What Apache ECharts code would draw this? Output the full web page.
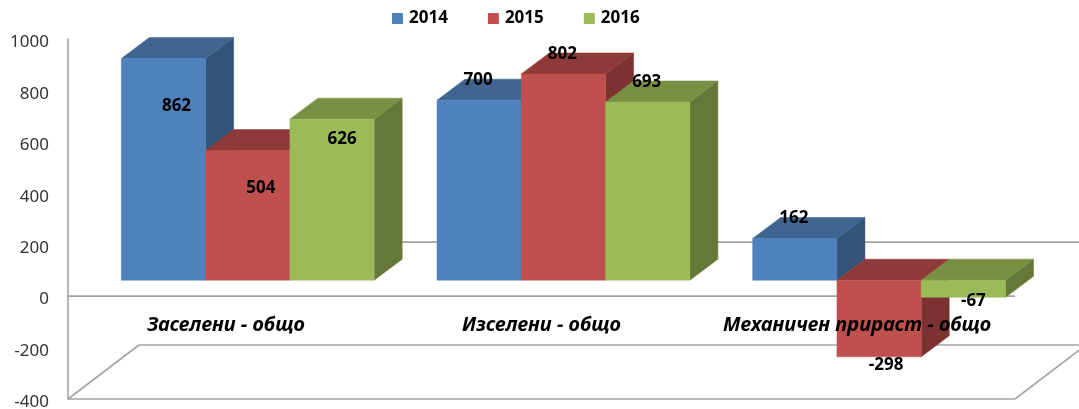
<!DOCTYPE html>
<html>
<head>
<meta charset="utf-8">
<style>html,body{margin:0;padding:0;background:#fff}#c{width:1079px;height:409px}</style>
<script src="https://cdn.jsdelivr.net/npm/echarts@6/dist/echarts.min.js"></script>
</head>
<body>
<div id="c"></div>
<script>
var categories = ['Заселени - общо', 'Изселени - общо', 'Механичен прираст - общо'];
var years = ['2014', '2015', '2016'];
var values2014 = [862, 700, 162];
var values2015 = [504, 802, -298];
var values2016 = [626, 693, -67];
var allValues = [values2014, values2015, values2016];

// appearance
var frontColors = ['#4F81BD', '#C0504D', '#9BBB59'];
var topColors = ['#3F648F', '#8E3A38', '#788F44'];
var sideColors = ['#335479', '#7C3230', '#667837'];
var lineColor = '#a3a3a3';
var FONT = '"Noto Sans", sans-serif';
var barRatio = 0.267, groupShift = 0.0695, lift = 16, depthX = 28, depthY = 21;
var planeX = 71, planeY = 54;
// hand-placed label nudges, as in the source chart (per series, per category)
var labelNudges = [
  [[13, 48], [-1, -20], [-1, -20]],
  [[13, 38], [-1, -20], [7, 8]],
  [[10, 20], [-1, -20], [10, 4]]
];

function frameItem(params, api) {
  var cs = params.coordSys;
  var l = cs.x, r = cs.x + cs.width;
  var y0 = api.coord([0, 0])[1], yMin = api.coord([0, -400])[1];
  function ln(x1, y1, x2, y2) {
    return {type: 'line', shape: {x1: x1, y1: y1, x2: x2, y2: y2},
      style: {stroke: lineColor, lineWidth: 1.6, fill: null}, silent: true};
  }
  return {type: 'group', children: [
    ln(l, y0, r, y0),
    ln(l + planeX, y0 - planeY, r + planeX, y0 - planeY),
    ln(l, yMin, r, yMin),
    ln(l + planeX, yMin - planeY, r + planeX, yMin - planeY),
    ln(l, yMin, l + planeX, yMin - planeY),
    ln(r, yMin, r + planeX, yMin - planeY)
  ]};
}

function barItem(s) {
  return function (params, api) {
    var cat = api.value(0), v = api.value(1);
    var band = api.size([1, 0])[0];
    var w = band * barRatio;
    var c = api.coord([cat, v]);
    var b = api.coord([cat, 0]);
    var x = b[0] + band * groupShift + (s - 1.5) * w;
    var yTop = Math.min(c[1], b[1]) - lift;
    var yBot = Math.max(c[1], b[1]) - lift;
    var nudge = labelNudges[s][params.dataIndex];
    var yEnd = c[1] - lift;
    function poly(pts, color) {
      return {type: 'polygon', shape: {points: pts}, style: {fill: color, stroke: color, lineWidth: 0.5}};
    }
    return {type: 'group', children: [
      poly([[x + w, yTop], [x + w + depthX, yTop - depthY], [x + w + depthX, yBot - depthY], [x + w, yBot]], sideColors[s]),
      poly([[x, yTop], [x + depthX, yTop - depthY], [x + w + depthX, yTop - depthY], [x + w, yTop]], topColors[s]),
      poly([[x, yTop], [x + w, yTop], [x + w, yBot], [x, yBot]], frontColors[s]),
      {type: 'text', z2: 100, x: x + w / 2 + nudge[0], y: yEnd + nudge[1], style: {
        text: String(v), fill: '#000', font: 'bold 17px ' + FONT, align: 'center', verticalAlign: 'middle'}}
    ]};
  };
}

var series = [{
  type: 'custom', name: 'frame', silent: true, z: 1, clip: false,
  data: [[0, 0]], encode: {x: 0, y: 1}, renderItem: frameItem
}];
years.forEach(function (yr, s) {
  series.push({
    type: 'custom', name: yr, z: 2, clip: false,
    itemStyle: {color: frontColors[s]},
    encode: {x: 0, y: 1},
    data: allValues[s].map(function (v, i) { return [i, v]; }),
    renderItem: barItem(s)
  });
});

var chart = echarts.init(document.getElementById('c'), null, {renderer: 'canvas'});
chart.setOption({
  animation: false,
  backgroundColor: '#fff',
  grid: {left: 68, top: 39, width: 947, height: 360, containLabel: false, outerBoundsMode: 'none'},
  legend: {
    data: years, left: 387, top: 5, icon: 'rect', itemWidth: 11, itemHeight: 11, itemGap: 40,
    textStyle: {color: '#000', fontFamily: 'Noto Sans', fontWeight: 'bold', fontSize: 17, padding: [0, 0, 0, 1]},
    selectedMode: false
  },
  xAxis: {
    type: 'category', data: categories, z: 10,
    axisLine: {show: false}, axisTick: {show: false},
    axisLabel: {show: true, interval: 0, margin: -84, color: '#000', fontFamily: 'Noto Sans',
      fontStyle: 'italic', fontWeight: 'bold', fontSize: 20}
  },
  yAxis: {
    type: 'value', min: -400, max: 1000, interval: 200,
    axisLine: {show: true, lineStyle: {color: lineColor, width: 1.6}},
    axisTick: {show: false}, splitLine: {show: false},
    axisLabel: {margin: 19, color: '#333', fontFamily: 'Noto Sans', fontSize: 17,
      verticalAlign: 'top', lineHeight: 7,
      formatter: function (v) { return String(v); }}
  },
  series: series
});
</script>
</body>
</html>
